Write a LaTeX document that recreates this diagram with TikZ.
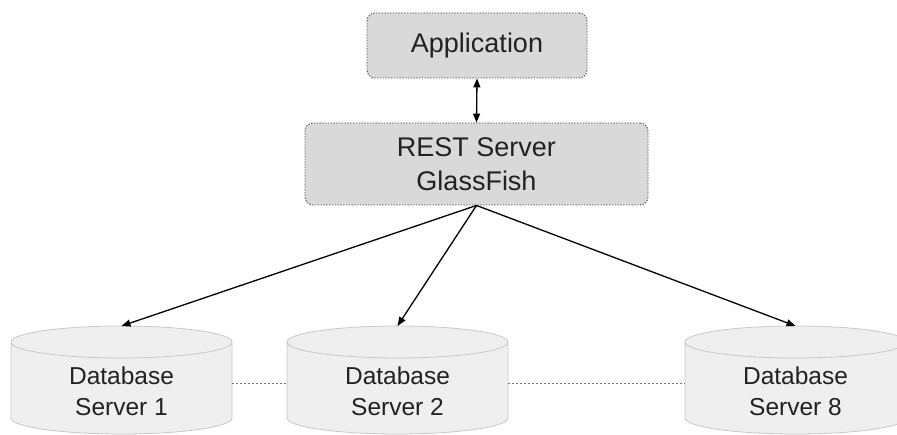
\documentclass[tikz,border=0pt]{standalone}
\usepackage{fontspec}
\setmainfont{Liberation Sans}
\usetikzlibrary{arrows.meta}
\definecolor{boxfill}{HTML}{D9D9D9}
\definecolor{boxline}{HTML}{555555}
\definecolor{dbfill}{HTML}{EFEFEF}
\definecolor{dbline}{HTML}{C8C8C8}
\definecolor{txt}{HTML}{222222}
\definecolor{linkgray}{HTML}{777777}
\tikzset{
  box/.style={draw=boxline, fill=boxfill, rounded corners=8pt, line width=0.9pt,
    dash pattern=on 1.4pt off 1.4pt, align=center, text=txt, inner sep=0pt,
    font=\fontsize{27}{34}\selectfont},
  dbtext/.style={align=center, text=txt, inner sep=0pt, minimum width=221pt,
    font=\fontsize{24.5}{31}\selectfont},
  cylbody/.style={fill=dbfill},
  cylline/.style={draw=dbline, line width=0.8pt},
  flow/.style={line width=1.3pt, -{Triangle[length=9pt,width=7pt]}},
  flowboth/.style={line width=1.3pt, {Triangle[length=9pt,width=7pt]}-{Triangle[length=9pt,width=7pt]}},
  peer/.style={draw=linkgray, line width=0.9pt, dash pattern=on 2pt off 2pt},
}
\begin{document}
\begin{tikzpicture}[x=1pt,y=1pt]
  \useasboundingbox (0,0) rectangle (897,434);

  % database cylinders
  \foreach \cx in {121.5,397.5,795.5} {
    \path[cylbody] (\cx-110.5,92) -- (\cx-110.5,16)
      arc[start angle=180,end angle=360,x radius=110.5pt,y radius=16pt]
      -- (\cx+110.5,92)
      arc[start angle=0,end angle=180,x radius=110.5pt,y radius=16pt] -- cycle;
    \draw[cylline] (\cx-110.5,92) -- (\cx-110.5,16)
      arc[start angle=180,end angle=360,x radius=110.5pt,y radius=16pt]
      -- (\cx+110.5,92)
      arc[start angle=0,end angle=360,x radius=110.5pt,y radius=16pt];
  }
  \coordinate (top1) at (121.5,108);
  \coordinate (top2) at (397.5,108);
  \coordinate (top8) at (795.5,108);

  % labels
  \node[box, minimum width=220pt, minimum height=65pt] (app) at (477,388.5) {Application};
  \node[box, minimum width=343pt, minimum height=82pt] (rest) at (476.5,270) {REST Server\\GlassFish};
  \node[dbtext] (db1) at (121.5,43) {Database\\Server 1};
  \node[dbtext] (db2) at (397.5,43) {Database\\Server 2};
  \node[dbtext] (db8) at (795.5,43) {Database\\Server 8};

  % connectors
  \draw[flowboth] (app.south) -- (rest.north);
  \draw[flow] (rest.south) -- (top1);
  \draw[flow] (rest.south) -- (top2);
  \draw[flow] (rest.south) -- (top8);
  \draw[peer] ([yshift=8pt]db1.east) -- ([yshift=8pt]db2.west);
  \draw[peer] ([yshift=8pt]db2.east) -- ([yshift=8pt]db8.west);
\end{tikzpicture}
\end{document}
